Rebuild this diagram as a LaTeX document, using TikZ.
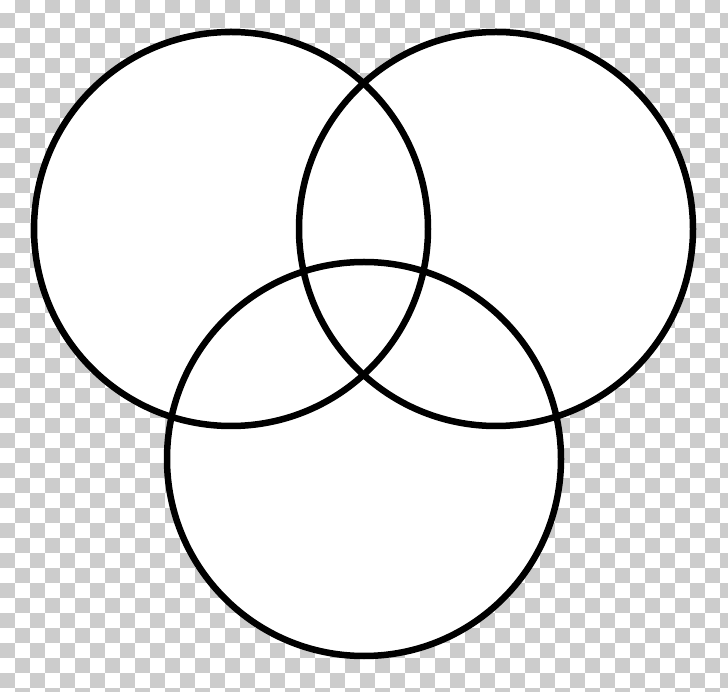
\documentclass[tikz,border=0pt]{standalone}
\definecolor{checkgray}{RGB}{204,204,204}
\tikzset{
  disc/.style={circle, minimum size=394pt, inner sep=0pt, fill=white},
  ring/.style={line width=6.5pt, draw=black}
}
\begin{document}
\begin{tikzpicture}[x=1pt,y=1pt]
\useasboundingbox (0,0) rectangle (728,691);
\fill[white] (0,0) rectangle (728,691);
\begin{scope}
\clip (0,0) rectangle (728,691);
\foreach \r in {0,...,46}{
  \foreach \c in {0,...,48}{
    \pgfmathtruncatemacro\p{mod(\r+\c,2)}
    \ifnum\p=1
      \fill[checkgray] (15*\c, {691+1.7-15*\r}) rectangle (15*\c+15, {691+1.7-15*\r-15});
    \fi
  }
}
\end{scope}
\node[disc] (A) at (231, 462) {};
\node[disc] (B) at (496, 462) {};
\node[disc] (C) at (364, 232) {};
\draw[ring] (A) circle[radius=197];
\draw[ring] (B) circle[radius=197];
\draw[ring] (C) circle[radius=197];
\end{tikzpicture}
\end{document}
